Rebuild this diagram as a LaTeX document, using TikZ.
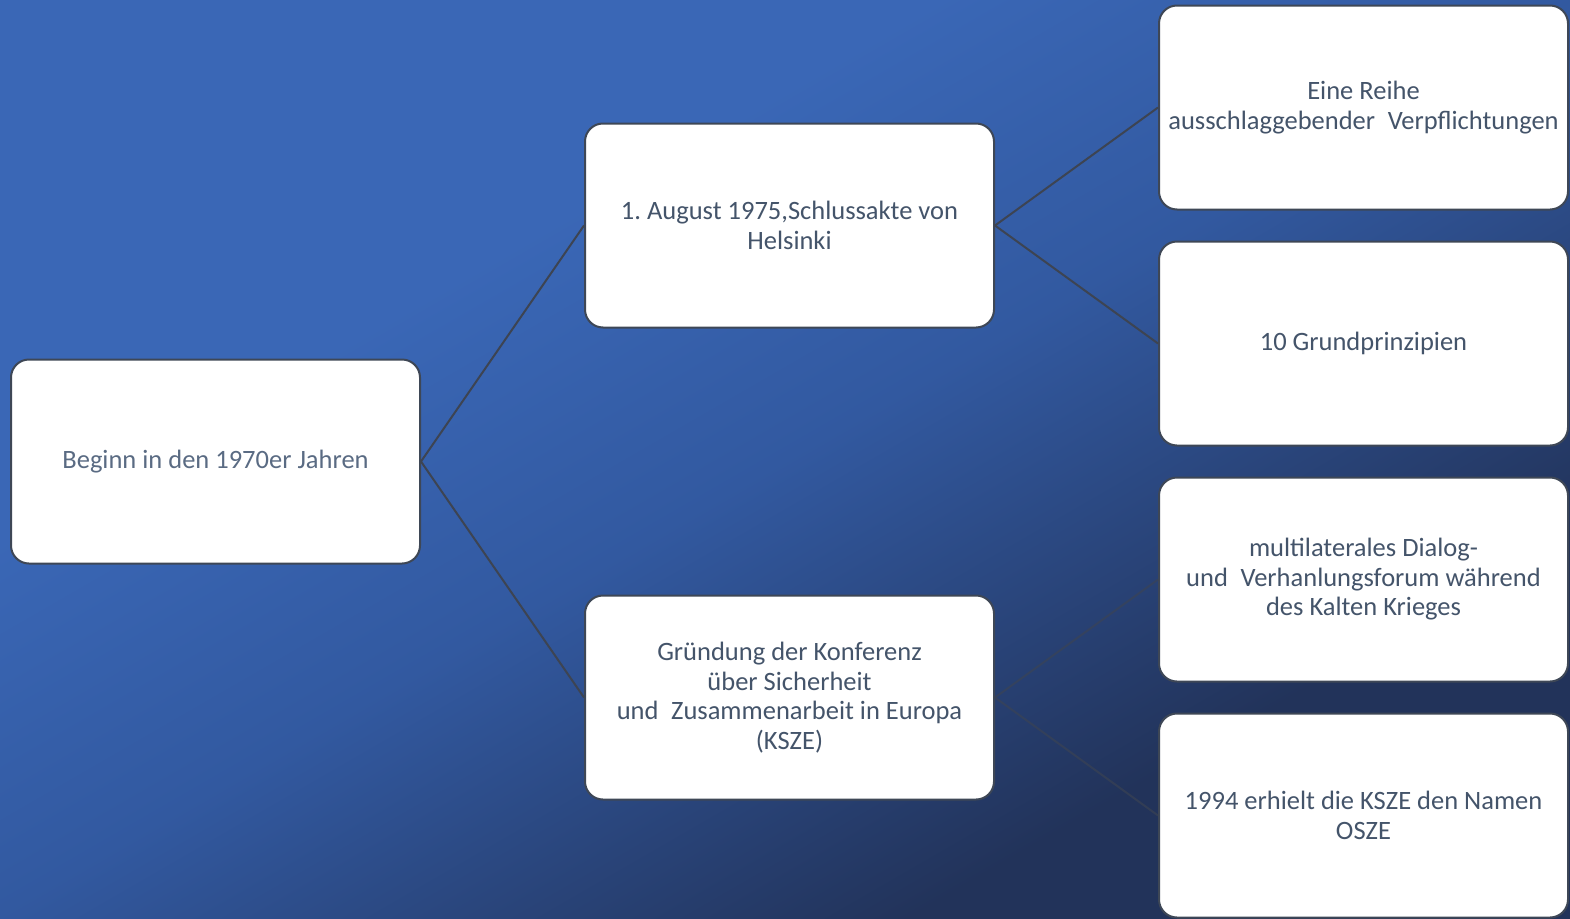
\documentclass[tikz,border=0pt]{standalone}
\usepackage{fontspec}
\setmainfont{Carlito}
\definecolor{bgtop}{HTML}{3A67B6}
\definecolor{bgmid}{HTML}{3259A0}
\definecolor{bgbot}{HTML}{22335A}
\definecolor{boxline}{HTML}{3E4756}
\definecolor{txt}{HTML}{44546A}
\definecolor{txtlight}{HTML}{5A6B83}
\definecolor{conn}{HTML}{3D4452}
\pgfdeclareverticalshading{bgshade}{100bp}{color(0bp)=(bgbot); color(30bp)=(bgbot); color(50bp)=(bgmid); color(64bp)=(bgtop); color(100bp)=(bgtop)}
\tikzset{
  boxnode/.style={draw=boxline, line width=2pt, fill=white, rounded corners=18pt,
    minimum width=409pt, minimum height=204pt, align=center, text=txt,
    font=\fontsize{26.5}{29.5}\selectfont, inner sep=4pt},
  connline/.style={draw=conn, line width=2pt},
  fadeline/.style={draw=conn, line width=2pt, draw opacity=0.6}
}
\frenchspacing
\begin{document}
\begin{tikzpicture}[x=1pt,y=-1pt]
\useasboundingbox (0,0) rectangle (1570,918);
\shade[shading=bgshade, shading angle=30] (0,0) rectangle (1570,918);
\clip (0,0) rectangle (1570,918);
\node[boxnode, text=txtlight] (a) at (215.5,461.5) {Beginn in den 1970er Jahren};
\node[boxnode] (b) at (789.5,225.5) {1. August 1975,Schlussakte von\\Helsinki};
\node[boxnode] (c) at (789.5,697.5) {Gründung der Konferenz\\über Sicherheit\\und\hspace{0.25em} Zusammenarbeit in Europa\\(KSZE)};
\node[boxnode] (r1) at (1363.5,107.5) {Eine Reihe\\ausschlaggebender\hspace{0.25em} Verpflichtungen};
\node[boxnode] (r2) at (1363.5,343.5) {10 Grundprinzipien};
\node[boxnode] (r3) at (1363.5,579.5) {multilaterales Dialog-\\und\hspace{0.25em} Verhanlungsforum während\\des Kalten Krieges};
\node[boxnode] (r4) at (1363.5,815.5) {1994 erhielt die KSZE den Namen\\OSZE};
\draw[connline] (a.east) -- (b.west);
\draw[connline] (a.east) -- (c.west);
\draw[connline] (b.east) -- (r1.west);
\draw[connline] (b.east) -- (r2.west);
\draw[fadeline] (c.east) -- (r3.west);
\draw[fadeline] (c.east) -- (r4.west);
\end{tikzpicture}
\end{document}
